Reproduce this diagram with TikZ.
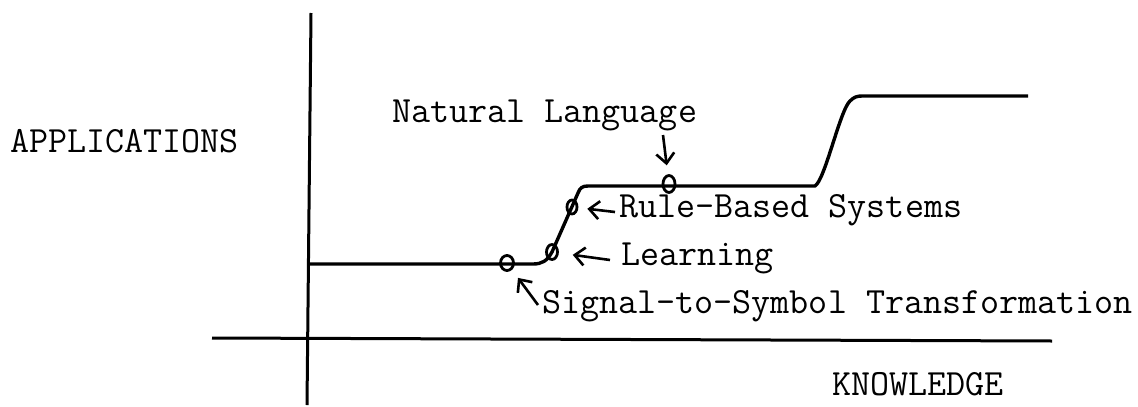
\documentclass[tikz,border=0pt]{standalone}
\usepackage{fontspec}
\usetikzlibrary{arrows.meta,shapes.geometric}

\tikzset{
  lbl/.style={anchor=base west, inner sep=0pt, font=\ttfamily\fontsize{37}{41}\selectfont},
  ringnode/.style={draw, ellipse, line width=2.8pt, inner sep=0pt, minimum width=11pt, minimum height=15pt},
  pointer/.style={line width=2.6pt, -{Straight Barb[length=10pt,width=18pt]}},
  axisline/.style={line width=3pt},
  curveline/.style={line width=3.4pt, line join=round}
}

\begin{document}
\begin{tikzpicture}[x=1pt, y=-1pt]
\useasboundingbox (0,0) rectangle (1138,407);

% Axes
\draw[axisline] (311,13) -- (307,405);
\draw[axisline] (212,338) -- (1052,341);

% Axis labels
\node[lbl] (apps) at (10,152) {APPLICATIONS};
\node[lbl] (know) at (832,395) {KNOWLEDGE};

% Growth curve
\draw[curveline] (310,264) -- (533,264)
  .. controls (542,264) and (547,261) .. (552,252)
  -- (578,193) .. controls (580,188) and (582,186) .. (588,186)
  -- (815,186) .. controls (825,180) and (840,110) .. (850,101)
  .. controls (854,97) and (857,96) .. (862,96) -- (1028,96);

% Points on the curve
\node[ringnode, minimum width=13pt, minimum height=15pt] (sig) at (507,263) {};
\node[ringnode] (learn) at (552,252) {};
\node[ringnode, minimum width=10pt, minimum height=14pt] (rule) at (572,207) {};
\node[ringnode, minimum width=12pt, minimum height=17pt] (natlang) at (669,184) {};

% Labels
\node[lbl] (natlanglbl) at (392,122) {Natural Language};
\node[lbl] (rulelbl) at (619,217) {Rule-Based Systems};
\node[lbl] (learnlbl) at (621,265) {Learning};
\node[lbl] (siglbl) at (542,313) {Signal-to-Symbol Transformation};

% Pointers
\coordinate (natlangtail) at (663,135);
\coordinate (ruletail) at (615,212);
\coordinate (learntail) at (610,260);
\coordinate (sigtail) at (538,305);
\draw[pointer, shorten >=9pt] (natlangtail) -- (natlang);
\draw[pointer, shorten >=9pt] (ruletail) -- (rule);
\draw[pointer, shorten >=14pt] (learntail) -- (learn);
\draw[pointer, shorten >=10pt] (sigtail) -- (sig);

\end{tikzpicture}
\end{document}
